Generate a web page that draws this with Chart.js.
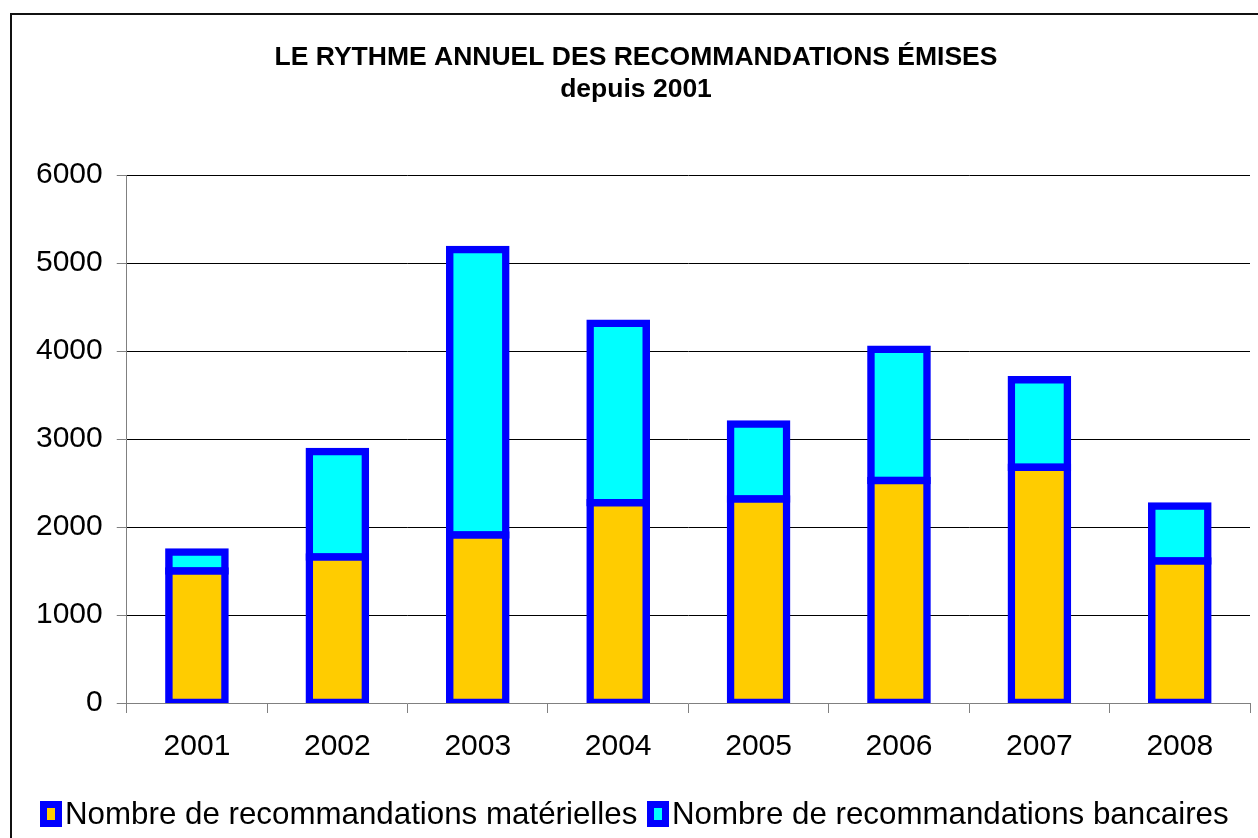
<!DOCTYPE html>
<html>
<head>
<meta charset="utf-8">
<script src="https://cdn.jsdelivr.net/npm/chart.js@4"></script>
<style>
  html, body { margin: 0; padding: 0; background: #fff; overflow: hidden; }
  #wrap { position: relative; width: 1258px; height: 838px; }
  #frame { position: absolute; left: 10px; top: 13px; width: 1300px; height: 900px; border: 2px solid #111; pointer-events: none; }
  .leg { position: absolute; top: 796px; font: 31.3px "Liberation Sans", Arial, sans-serif; color: #000; white-space: nowrap; }
  .box { position: absolute; top: 801px; width: 8px; height: 12px; border: 7px solid #0000ff; }
</style>
</head>
<body>
<div id="wrap">
  <canvas id="chart" width="1258" height="838"></canvas>
  <div id="frame"></div>
  <div class="box" style="left:40px;background:#ffcc00"></div>
  <div class="leg" style="left:65px">Nombre de recommandations matérielles</div>
  <div class="box" style="left:647px;background:#00ffff"></div>
  <div class="leg" style="left:672px">Nombre de recommandations bancaires</div>
</div>
<script>
// données
const annees = ['2001', '2002', '2003', '2004', '2005', '2006', '2007', '2008'];
const materielles = [1500, 1660, 1910, 2275, 2320, 2530, 2680, 1615];
const bancaires = [215, 1200, 3245, 2040, 850, 1490, 995, 625];
const graduations = [0, 1000, 2000, 3000, 4000, 5000, 6000];

const police = '"Liberation Sans", Arial, sans-serif';

let ctx = document.getElementById('chart').getContext('2d');

let data = {
    labels: annees,
    datasets: [{
        label: 'Nombre de recommandations matérielles',
        data: materielles,
        backgroundColor: '#ffcc00',
        borderColor: '#0000ff',
        borderWidth: 7.5,
        borderSkipped: false,
        inflateAmount: 3.75,
    }, {
        label: 'Nombre de recommandations bancaires',
        data: bancaires,
        backgroundColor: '#00ffff',
        borderColor: '#0000ff',
        borderWidth: 7.5,
        borderSkipped: false,
        inflateAmount: 3.75,
    }]
};

let options = {
    responsive: false,
    animation: false,
    events: [],
    categoryPercentage: 1.0,
    barPercentage: 0.4,
    layout: {
        padding: { left: 22, right: 8, top: 0, bottom: 57 }
    },
    plugins: {
        legend: { display: false },
        tooltip: { enabled: false },
        title: {
            display: true,
            text: ['LE RYTHME ANNUEL DES RECOMMANDATIONS ÉMISES', 'depuis 2001'],
            color: '#000',
            font: { family: police, size: 26.5, weight: 'bold', lineHeight: 1.21 },
            padding: { top: 42, bottom: 69 }
        }
    },
    scales: {
        x: {
            stacked: true,
            border: { color: '#808080', width: 1 },
            grid: {
                offset: true,
                drawOnChartArea: false,
                tickLength: 10,
                tickColor: '#808080',
                color: '#808080'
            },
            ticks: {
                color: '#000',
                padding: 16,
                font: { family: police, size: 30 }
            }
        },
        y: {
            stacked: true,
            min: 0,
            max: 6000,
            afterBuildTicks: axis => {
                axis.ticks = graduations.map(v => ({ value: v }));
            },
            border: { color: '#808080', width: 1 },
            grid: {
                color: c => (c.tick && c.tick.value === 0) ? 'rgba(0,0,0,0)' : '#000',
                tickLength: 10,
                tickColor: '#808080'
            },
            ticks: {
                color: '#000',
                padding: 14,
                font: { family: police, size: 30 },
                callback: v => String(v)
            }
        }
    }
};

let graphe = new Chart(ctx, {
    type: 'bar',
    data: data,
    options: options
});
</script>
</body>
</html>
